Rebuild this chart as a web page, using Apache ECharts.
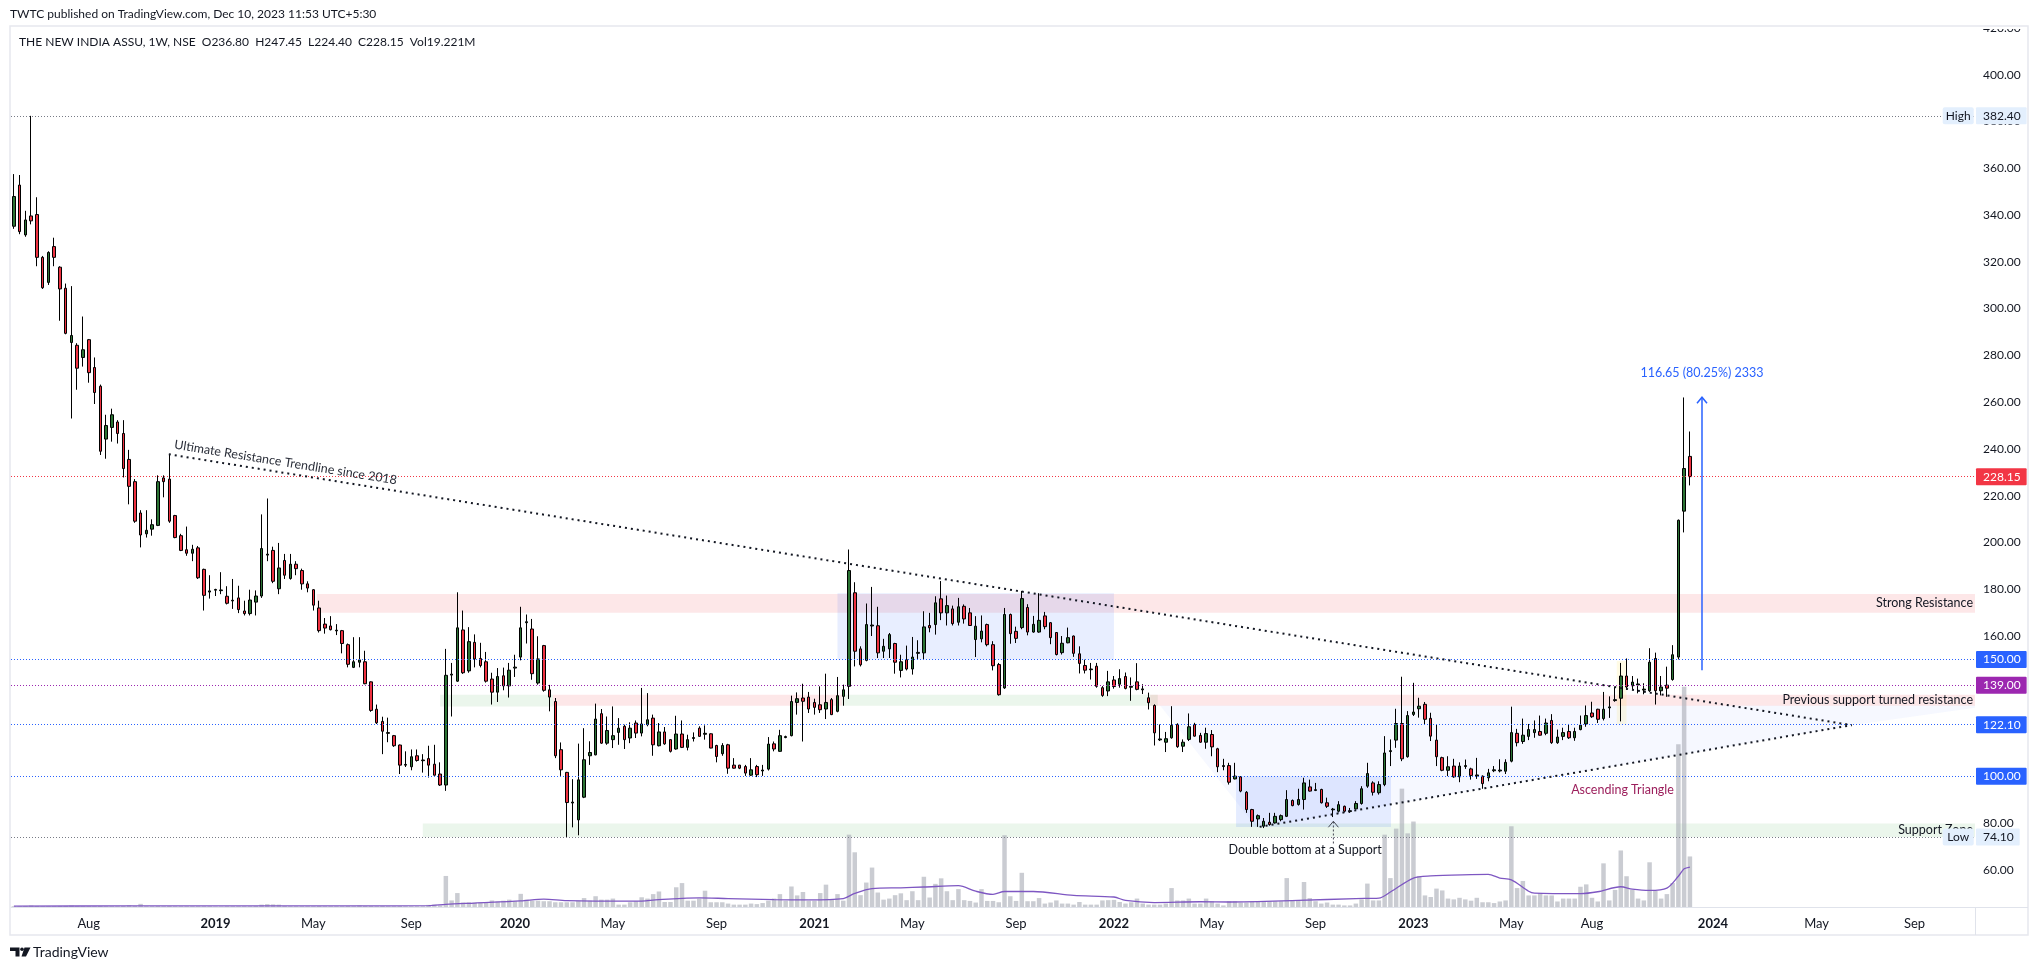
<!DOCTYPE html>
<html>
<head>
<meta charset="utf-8">
<title>THE NEW INDIA ASSU, 1W, NSE</title>
<script src="https://cdn.jsdelivr.net/npm/echarts@6/dist/echarts.min.js"></script>
<style>
    html, body { margin: 0; padding: 0; background: #ffffff; }
    #chart { width: 2039px; height: 972px; }
</style>
</head>
<body>
<div id="chart"></div>
<script>
    const FONT = 'Lato, "Open Sans", Roboto, sans-serif';

    // weekly bars: first one is the week of 7 May 2018, the last real one the week of 4 Dec 2023,
    // the rest are empty weeks up to the right edge of the chart
    const firstWeek = Date.UTC(2018, 4, 7);
    const totalWeeks = 341;
    const weeks = [];
    for (let i = 0; i < totalWeeks; i++) {
        weeks.push(new Date(firstWeek + i * 7 * 86400000).toISOString().slice(0, 10));
    }

    const tickLabels = [
        ['2018-08-06', 'Aug'], ['2019-01-07', '2019'], ['2019-05-06', 'May'], ['2019-09-02', 'Sep'],
        ['2020-01-06', '2020'], ['2020-05-04', 'May'], ['2020-09-07', 'Sep'],
        ['2021-01-04', '2021'], ['2021-05-03', 'May'], ['2021-09-06', 'Sep'],
        ['2022-01-03', '2022'], ['2022-05-02', 'May'], ['2022-09-05', 'Sep'],
        ['2023-01-02', '2023'], ['2023-05-01', 'May'], ['2023-08-07', 'Aug'],
        ['2024-01-01', '2024'], ['2024-05-06', 'May'], ['2024-09-02', 'Sep']
    ];

    // [open, close, low, high]
    const candles = [
        [335.2, 347.9, 334.1, 357.5], [352.8, 332.9, 331.8, 357.1], [331.5, 337.9, 330.7, 341.8], [339.6, 337.5, 336.0, 382.4],
        [340.2, 321.9, 318.1, 347.6], [321.9, 308.9, 308.4, 322.5], [311.2, 324.0, 310.1, 324.5], [326.5, 321.9, 318.1, 330.3],
        [317.7, 308.4, 294.8, 318.1], [308.7, 289.4, 289.0, 310.7], [285.5, 288.5, 253.0, 309.6], [284.3, 274.5, 265.3, 285.2],
        [279.1, 282.4, 275.2, 296.6], [286.7, 272.6, 268.3, 287.0], [274.8, 264.1, 259.2, 279.1], [266.8, 239.0, 237.4, 267.5],
        [244.2, 250.0, 235.8, 254.6], [249.2, 254.6, 243.1, 257.2], [251.5, 246.6, 242.3, 252.3], [246.6, 231.6, 227.8, 252.3],
        [235.5, 224.0, 216.3, 239.6], [226.0, 209.1, 208.4, 227.1], [212.6, 203.2, 197.9, 213.8], [203.7, 205.2, 202.1, 213.8],
        [205.7, 207.6, 202.9, 209.9], [207.3, 226.0, 207.0, 228.7], [227.6, 226.0, 219.3, 228.7], [227.1, 209.1, 208.4, 237.6],
        [211.5, 202.1, 201.8, 211.8], [202.9, 196.6, 196.3, 203.7], [196.9, 195.4, 194.3, 206.8], [195.4, 197.1, 192.0, 199.0],
        [197.7, 184.9, 184.4, 198.5], [188.5, 177.4, 170.9, 188.8], [178.8, 179.3, 176.0, 186.0], [179.6, 179.9, 177.1, 180.2],
        [179.4, 179.7, 177.9, 187.3], [177.0, 174.0, 173.5, 181.3], [175.0, 175.3, 171.6, 184.4], [176.3, 171.3, 169.8, 181.5],
        [170.7, 169.6, 168.8, 175.1], [169.6, 175.4, 168.8, 179.8], [174.5, 177.1, 168.8, 179.5], [177.1, 197.4, 176.3, 212.0],
        [194.6, 195.0, 192.0, 218.8], [196.6, 183.4, 182.6, 198.2], [180.2, 189.1, 177.9, 199.8], [192.3, 186.0, 184.4, 195.1],
        [184.6, 190.7, 184.1, 195.1], [190.7, 188.8, 186.0, 192.0], [188.0, 182.3, 179.8, 188.8], [182.3, 180.5, 178.7, 183.4],
        [179.8, 173.2, 170.9, 180.1], [172.0, 162.3, 161.5, 175.1], [165.1, 163.4, 161.0, 167.7], [164.3, 162.7, 162.4, 168.5],
        [162.2, 162.5, 160.4, 165.1], [162.3, 156.8, 152.6, 162.6], [156.3, 147.9, 146.6, 156.8], [146.6, 149.0, 146.3, 159.5],
        [148.8, 149.8, 146.6, 159.5], [149.0, 139.6, 139.4, 153.7], [140.4, 128.2, 127.6, 140.6], [128.7, 122.9, 122.4, 130.7],
        [123.5, 119.3, 109.5, 125.5], [118.4, 118.7, 114.6, 125.1], [117.4, 113.1, 112.6, 117.7], [113.4, 104.8, 101.0, 113.6],
        [104.8, 105.1, 104.0, 110.7], [104.1, 108.4, 102.6, 111.5], [108.8, 106.8, 106.3, 111.5], [106.7, 107.0, 101.6, 109.5],
        [107.6, 104.8, 99.5, 113.1], [105.2, 100.5, 100.3, 113.5], [101.0, 96.3, 95.9, 106.0], [96.3, 143.2, 93.8, 154.5],
        [143.3, 143.7, 125.6, 148.5], [140.7, 163.5, 140.4, 178.7], [162.6, 144.3, 143.8, 170.9], [145.1, 157.6, 144.3, 163.8],
        [157.3, 150.2, 146.6, 160.7], [150.4, 147.4, 146.6, 157.1], [149.0, 140.7, 140.1, 153.2], [141.6, 136.0, 130.7, 144.3],
        [136.0, 142.7, 131.8, 146.3], [143.0, 138.7, 136.8, 146.5], [138.7, 145.4, 133.7, 148.5], [146.3, 146.7, 142.5, 152.0],
        [151.0, 163.5, 149.6, 172.5], [165.7, 166.1, 156.8, 169.2], [163.0, 143.9, 141.3, 167.3], [139.9, 150.2, 139.2, 159.9],
        [155.9, 136.8, 136.2, 156.2], [137.0, 133.9, 127.8, 139.1], [132.0, 108.8, 107.8, 133.5], [111.4, 102.8, 100.2, 114.5],
        [101.7, 88.8, 74.1, 101.9], [88.6, 89.0, 78.2, 98.8], [81.4, 98.5, 74.8, 114.0], [91.1, 107.1, 90.7, 120.6],
        [108.8, 110.2, 104.9, 115.0], [109.2, 124.5, 109.0, 131.1], [126.8, 114.2, 113.9, 128.8], [114.2, 119.6, 113.5, 125.6],
        [115.7, 117.4, 112.1, 129.9], [118.8, 120.6, 113.5, 124.9], [121.4, 115.7, 111.7, 122.1], [116.4, 120.6, 114.2, 123.1],
        [122.8, 118.5, 116.4, 123.9], [118.5, 122.4, 117.1, 137.8], [122.1, 124.2, 121.4, 135.6], [124.9, 113.5, 108.8, 126.4],
        [113.1, 119.0, 112.8, 122.8], [119.0, 113.9, 113.5, 121.1], [115.7, 110.7, 110.2, 115.9], [111.7, 118.1, 111.4, 125.9],
        [118.1, 112.4, 112.1, 123.9], [112.4, 115.7, 111.1, 117.8], [116.2, 116.6, 114.9, 118.8], [120.6, 117.1, 117.0, 121.4],
        [118.0, 118.4, 115.7, 121.8], [118.2, 112.1, 112.0, 118.4], [113.2, 108.5, 106.0, 113.5], [109.7, 113.2, 108.8, 114.2],
        [113.5, 103.5, 101.1, 113.9], [104.8, 103.5, 103.3, 107.8], [104.8, 103.5, 103.1, 104.9], [104.2, 101.4, 100.2, 104.9],
        [100.5, 102.8, 100.2, 107.8], [104.2, 100.7, 99.7, 104.9], [102.3, 102.7, 100.2, 104.9], [103.1, 113.8, 102.5, 116.8],
        [113.9, 111.7, 110.7, 114.9], [110.7, 117.4, 110.5, 119.9], [116.6, 117.0, 116.3, 117.4], [117.4, 132.0, 117.1, 134.5],
        [131.6, 133.2, 126.4, 135.9], [133.5, 132.1, 114.9, 139.6], [133.9, 128.8, 127.1, 136.1], [131.6, 129.5, 126.4, 133.2],
        [130.6, 128.5, 127.1, 138.5], [128.8, 131.6, 124.5, 143.9], [132.8, 126.4, 126.2, 133.5], [127.8, 134.5, 127.4, 142.5],
        [134.2, 137.0, 130.2, 139.2], [138.5, 188.0, 133.1, 197.0], [178.5, 153.5, 147.0, 183.0], [154.5, 147.7, 147.0, 155.6],
        [149.6, 164.9, 149.2, 173.9], [164.3, 164.7, 160.0, 181.0], [164.4, 152.8, 150.6, 172.5], [153.5, 155.6, 150.6, 158.8],
        [154.5, 160.6, 150.6, 161.3], [156.8, 148.8, 143.9, 157.1], [145.3, 149.0, 142.3, 152.0], [149.9, 145.9, 145.3, 155.9],
        [145.9, 151.0, 143.5, 159.6], [152.6, 153.0, 150.2, 158.2], [152.8, 163.9, 149.9, 170.6], [164.5, 163.5, 161.6, 169.9],
        [164.9, 174.2, 160.6, 177.0], [175.9, 169.9, 166.8, 183.5], [169.9, 173.0, 164.5, 177.3], [171.6, 165.3, 164.5, 173.0],
        [165.9, 172.5, 164.5, 176.3], [172.7, 167.3, 165.3, 173.5], [169.9, 164.5, 164.3, 172.0], [158.5, 164.2, 151.0, 168.5],
        [158.8, 162.1, 157.3, 168.8], [164.9, 156.3, 155.6, 165.3], [156.3, 147.3, 145.3, 157.8], [147.8, 134.9, 134.5, 148.5],
        [137.8, 169.2, 137.4, 172.0], [169.2, 161.0, 156.7, 169.6], [162.0, 159.0, 157.0, 164.0], [163.6, 176.0, 162.9, 179.3],
        [172.2, 161.7, 160.3, 173.6], [161.7, 165.0, 161.4, 168.6], [161.7, 166.7, 161.4, 178.3], [168.6, 164.0, 162.9, 170.3],
        [165.7, 159.3, 156.5, 166.0], [161.5, 152.1, 151.7, 161.7], [152.9, 156.9, 152.1, 160.0], [157.1, 159.3, 156.9, 163.6],
        [160.0, 152.6, 151.1, 160.2], [152.4, 148.3, 144.0, 155.6], [147.4, 145.4, 144.0, 149.9], [145.6, 145.9, 141.4, 148.5],
        [147.1, 138.5, 137.9, 148.5], [137.9, 134.6, 134.0, 138.6], [136.5, 140.4, 134.3, 145.1], [141.2, 138.4, 137.5, 142.9],
        [139.4, 141.8, 137.9, 145.8], [142.7, 137.6, 137.2, 144.4], [138.1, 138.5, 132.3, 142.3], [140.4, 137.2, 136.8, 148.4],
        [137.0, 137.4, 135.2, 139.4], [133.6, 131.5, 128.6, 135.8], [130.3, 118.6, 113.2, 130.8], [115.6, 116.0, 115.1, 122.2],
        [114.6, 116.1, 110.4, 119.0], [116.5, 121.8, 116.1, 130.0], [122.2, 112.7, 112.2, 122.7], [112.9, 114.6, 110.4, 115.8],
        [115.8, 121.2, 115.1, 126.9], [122.2, 117.2, 117.0, 122.9], [117.5, 114.6, 114.4, 118.6], [114.6, 118.3, 111.8, 120.8],
        [117.9, 112.6, 108.6, 119.8], [111.8, 104.1, 101.8, 112.2], [104.2, 104.6, 102.6, 107.5], [104.6, 97.5, 96.5, 105.8],
        [98.9, 100.1, 98.7, 105.8], [99.8, 93.7, 93.2, 100.1], [93.2, 85.8, 84.4, 93.7], [85.8, 80.8, 78.4, 86.1],
        [81.8, 83.2, 78.4, 83.7], [78.7, 80.8, 77.9, 82.2], [80.4, 79.4, 78.9, 84.4], [80.1, 82.9, 79.8, 84.4],
        [81.5, 83.2, 80.8, 83.7], [82.9, 90.1, 82.6, 94.1], [89.7, 87.5, 87.2, 90.1], [88.0, 90.1, 87.5, 94.7],
        [90.1, 97.2, 85.8, 99.4], [95.5, 93.7, 93.5, 98.6], [94.0, 94.3, 93.7, 97.2], [94.4, 88.7, 88.4, 94.7],
        [88.7, 87.2, 86.5, 90.9], [85.7, 86.0, 82.6, 86.5], [85.1, 87.9, 84.6, 89.4], [87.2, 85.1, 84.6, 87.5],
        [85.0, 85.3, 84.4, 86.5], [86.1, 88.4, 85.8, 89.4], [88.4, 94.7, 87.9, 95.8], [95.8, 101.2, 95.1, 105.8],
        [97.2, 93.2, 91.8, 97.9], [93.0, 96.5, 92.2, 97.9], [96.5, 110.0, 95.8, 117.2], [110.6, 111.0, 104.4, 115.8],
        [115.5, 122.6, 112.2, 128.9], [122.6, 107.5, 106.5, 142.6], [108.4, 126.0, 108.0, 127.9], [126.5, 127.5, 125.8, 140.0],
        [128.9, 130.0, 125.1, 133.6], [130.8, 124.4, 122.2, 131.8], [124.8, 117.2, 115.1, 127.2], [115.5, 108.4, 104.4, 122.2],
        [108.0, 102.6, 102.2, 108.4], [102.6, 104.1, 100.1, 108.6], [104.4, 99.8, 99.4, 107.5], [99.8, 104.4, 97.5, 106.0],
        [104.2, 104.6, 103.2, 107.2], [103.2, 100.4, 98.6, 103.7], [100.2, 100.6, 98.9, 107.9], [100.1, 96.9, 94.7, 100.4],
        [99.4, 101.5, 97.9, 103.2], [102.4, 102.8, 101.8, 104.4], [102.3, 102.7, 101.7, 107.3], [102.2, 106.0, 101.0, 107.3],
        [106.5, 118.7, 106.0, 129.8], [118.4, 114.4, 112.8, 120.3], [114.9, 117.6, 113.9, 124.7], [117.1, 120.0, 115.5, 122.4],
        [118.7, 120.0, 116.5, 123.9], [119.2, 117.6, 117.4, 126.0], [118.4, 122.8, 117.6, 124.7], [123.9, 114.4, 113.9, 126.6],
        [114.4, 116.8, 113.9, 120.0], [117.1, 118.7, 115.5, 120.8], [119.2, 116.5, 116.0, 122.4], [116.5, 119.2, 115.2, 120.8],
        [120.0, 121.9, 119.7, 126.0], [122.4, 126.0, 121.2, 130.3], [127.1, 125.5, 125.0, 131.9], [128.7, 124.4, 122.8, 128.9],
        [124.7, 128.7, 123.9, 136.1], [129.3, 129.7, 125.0, 134.2], [132.4, 132.8, 131.9, 138.2], [133.4, 142.9, 123.5, 148.5],
        [142.9, 138.2, 137.0, 150.4], [138.7, 140.3, 137.0, 142.9], [139.1, 139.5, 135.5, 141.8], [136.9, 137.3, 135.1, 139.8],
        [136.6, 148.8, 136.1, 154.8], [150.4, 136.6, 130.7, 152.9], [136.6, 138.2, 134.6, 142.9], [139.0, 137.7, 134.0, 146.9],
        [141.4, 152.0, 140.9, 156.1], [151.0, 209.5, 150.0, 209.8], [213.4, 231.6, 204.3, 262.0], [236.8, 228.15, 224.4, 247.45]
    ];

    // weekly volume, millions of shares
    const volumes = [
        0.3, 0.3, 0.4, 0.6, 0.4, 0.3, 0.3, 0.3, 0.4, 0.4, 0.6, 0.3, 0.3, 0.3, 0.3, 0.4, 0.3, 0.3, 0.3, 0.4,
        0.7, 0.4, 1.2, 0.3, 0.3, 0.4, 0.3, 0.4, 0.3, 0.3, 0.3, 0.3, 0.3, 0.3, 0.3, 0.2, 0.2, 0.3, 0.3, 0.3,
        0.3, 0.3, 0.4, 0.9, 1.1, 1.0, 0.9, 0.4, 0.3, 0.3, 0.3, 0.3, 0.3, 0.4, 0.3, 0.3, 0.3, 0.3, 0.4, 0.3,
        0.6, 0.4, 0.4, 0.3, 0.4, 0.3, 0.3, 0.4, 0.3, 0.3, 0.3, 0.3, 0.8, 0.9, 0.6, 11.8, 2.5, 5.3, 1.7, 1.8,
        1.7, 1.7, 1.7, 2.5, 2.1, 2.4, 2.8, 2.2, 5.0, 2.8, 2.4, 2.4, 2.2, 2.2, 1.8, 1.8, 1.8, 1.8, 2.4, 3.4,
        2.4, 4.1, 2.8, 2.8, 3.2, 0.9, 0.9, 1.8, 2.2, 3.7, 3.2, 4.9, 5.9, 1.9, 1.9, 7.5, 9.1, 2.4, 2.4, 3.2,
        6.2, 1.8, 1.8, 1.8, 1.3, 0.9, 0.9, 0.9, 1.3, 1.1, 1.5, 2.4, 3.2, 4.9, 2.4, 7.8, 4.4, 5.7, 2.4, 2.4,
        5.3, 8.5, 2.8, 4.9, 2.4, 27.5, 20.8, 4.5, 9.3, 15.0, 5.5, 2.8, 3.2, 4.5, 5.2, 2.6, 6.0, 2.6, 11.5, 3.6,
        8.8, 10.9, 6.0, 2.6, 6.8, 2.6, 2.3, 1.7, 6.8, 2.3, 2.3, 1.8, 27.3, 4.1, 2.3, 13.0, 2.2, 2.2, 3.4, 1.3,
        1.7, 2.5, 1.3, 1.3, 0.9, 1.9, 0.9, 0.9, 0.9, 2.5, 2.6, 2.7, 1.9, 1.3, 1.8, 3.2, 1.3, 0.9, 0.9, 0.9,
        1.3, 7.2, 2.5, 2.5, 3.2, 1.3, 1.3, 3.2, 2.2, 1.3, 0.6, 2.2, 2.2, 1.7, 1.7, 2.2, 2.2, 2.2, 2.2, 2.2,
        2.2, 11.0, 2.5, 2.5, 9.5, 3.4, 2.2, 1.3, 1.7, 0.9, 0.9, 0.6, 0.6, 1.3, 2.9, 8.9, 2.5, 2.5, 27.5, 11.0,
        29.8, 45.0, 28.0, 32.5, 11.8, 4.4, 3.8, 7.0, 6.3, 3.2, 2.9, 3.5, 2.9, 2.4, 3.5, 1.8, 1.8, 1.5, 2.1, 2.5,
        30.7, 7.2, 9.9, 4.4, 4.4, 5.3, 4.4, 4.4, 2.1, 3.2, 3.2, 3.2, 7.7, 8.6, 3.5, 2.1, 16.6, 2.5, 6.5, 21.5,
        11.7, 6.5, 3.2, 2.5, 17.0, 6.1, 3.2, 4.9, 9.1, 61.9, 83.7, 19.22
    ];

    // volume moving average as drawn: [week, millions]
    const volumeAvg = [
        [0, 0.35], [20, 0.4], [40, 0.45], [60, 0.45], [72, 0.5], [75, 1.0], [80, 1.5], [88, 2.3], [92, 3.0],
        [96, 2.4], [108, 2.2], [112, 2.8], [119, 3.5], [124, 3.2], [132, 2.8], [138, 2.7], [144, 3.2], [146, 5.2],
        [149, 7.0], [154, 7.3], [158, 7.6], [164, 8.1], [167, 6.0], [170, 4.8], [172, 5.9], [177, 5.9], [184, 4.4],
        [191, 3.8], [193, 2.5], [198, 1.7], [206, 2.0], [211, 1.9], [223, 2.5], [233, 3.2], [237, 3.4], [239, 5.7],
        [243, 11.0], [246, 11.8], [253, 12.3], [256, 12.4], [258, 11.0], [260, 10.3], [263, 6.0], [264, 5.3],
        [272, 5.1], [275, 5.8], [279, 7.7], [281, 6.8], [284, 6.3], [287, 7.2], [289, 11.7], [290, 14.5], [291, 15.2]
    ];

    // horizontal price levels
    const levels = [382.40, 228.15, 150.00, 139.00, 122.10, 100.00, 74.10];
    const levelColors = ['#787b86', '#f23645', '#2962ff', '#9c27b0', '#2962ff', '#2962ff', '#787b86'];
    const levelBoxes = ['#e3effd', '#f23645', '#2962ff', '#9c27b0', '#2962ff', '#2962ff', '#e3effd'];
    const levelText = ['#131722', '#fff', '#fff', '#fff', '#fff', '#fff', '#131722'];

    // drawings, in [week, price]
    const lastWeek = totalWeeks - 0.5;
    const zones = [
        { name: 'Strong Resistance', from: [52.6, 170.0], to: [lastWeek, 178.0], color: 'rgba(242,54,69,0.12)', label: true },
        { name: '', from: [74.0, 129.9], to: [93.6, 134.9], color: 'rgba(76,175,80,0.11)' },
        { name: '', from: [93.6, 130.2], to: [143.8, 134.9], color: 'rgba(242,54,69,0.12)' },
        { name: '', from: [143.8, 130.2], to: [198.6, 134.9], color: 'rgba(76,175,80,0.11)' },
        { name: 'Previous support turned resistance', from: [197.3, 130.2], to: [lastWeek, 134.9], color: 'rgba(242,54,69,0.12)', label: true },
        { name: 'Support Zone', from: [71.0, 74.1], to: [lastWeek, 79.9], color: 'rgba(76,175,80,0.11)', label: true },
        { name: '', from: [143.0, 150.0], to: [191.0, 178.3], color: 'rgba(41,98,255,0.11)' },
        { name: '', from: [212.2, 78.4], to: [239.1, 100.0], color: 'rgba(41,98,255,0.12)' },
        { name: '', from: [278.3, 122.3], to: [280.0, 149.3], color: 'rgba(255,214,0,0.1)' }
    ];
    const triangleShade = [[199.0, 130.3], [215.8, 78.0], [319.1, 121.9], [lastWeek, 129.3], [lastWeek, 130.3]];
    const resistanceLine = [[26.9, 237.7], [319.1, 121.9]];
    const supportLine = [[216.3, 78.4], [319.1, 121.9]];
    const arrows = [
        { x: 293.1, from: 145.4, to: 262.1, color: '#2962ff', width: 1.5, dash: null },
        { x: 229.1, from: 71.3, to: 80.8, color: '#434651', width: 1, dash: [2, 2] }
    ];
    const notes = [
        { at: [293.1, 272.6], text: '116.65 (80.25%) 2333', color: '#2962ff' },
        { at: [279.3, 94.3], text: 'Ascending Triangle', color: '#9c1f5c' },
        { at: [224.2, 68.7], text: 'Double bottom at a Support', color: '#131722' }
    ];
    const tags = [
        { at: [337.5, 382.40], text: 'High' },
        { at: [337.5, 74.10], text: 'Low' }
    ];

    const tickMap = {};
    tickLabels.forEach(t => { tickMap[t[0]] = t[1]; });

    let chart = echarts.init(document.getElementById('chart'));

    let option = {
        backgroundColor: '#ffffff',
        animation: false,
        textStyle: { fontFamily: FONT },
        grid: [
            { left: 11, right: 64, top: 27.9, bottom: 55.3 },
            { left: 11, right: 64, bottom: 65, height: 263 }
        ],
        xAxis: [
            { type: 'category', gridIndex: 0, data: weeks, boundaryGap: true, show: false },
            { type: 'value', gridIndex: 0, min: -0.5, max: lastWeek, show: false },
            {
                type: 'category', gridIndex: 1, data: weeks, boundaryGap: true,
                axisLine: { lineStyle: { color: '#e0e3eb', width: 1 } },
                axisTick: { show: false },
                splitLine: { show: false },
                axisLabel: {
                    margin: 10,
                    color: '#131722',
                    fontSize: 13,
                    interval: (idx, val) => tickMap[val] !== undefined,
                    formatter: (val) => {
                        const t = tickMap[val] || '';
                        return /^\d{4}$/.test(t) ? '{y|' + t + '}' : t;
                    },
                    rich: { y: { fontWeight: 'bold', fontSize: 13, color: '#131722', fontFamily: FONT } }
                }
            },
            { type: 'value', gridIndex: 1, min: -0.5, max: lastWeek, show: false }
        ],
        yAxis: [
            {
                type: 'value', gridIndex: 0, position: 'right', min: 40, max: 420, interval: 20,
                axisLine: { show: false },
                axisTick: { show: false },
                splitLine: { show: false },
                axisLabel: {
                    color: '#131722', fontSize: 12, margin: 8, showMinLabel: false,
                    formatter: v => v.toFixed(2)
                }
            },
            { type: 'value', gridIndex: 1, min: 0, max: 100, show: false }
        ],
        series: [
            {
                type: 'line', name: 'zones', xAxisIndex: 1, yAxisIndex: 0, data: [], z: 1, silent: true,
                markArea: {
                    silent: true,
                    data: zones.map(zn => [
                        {
                            name: zn.name, coord: zn.from, itemStyle: { color: zn.color },
                            label: {
                                show: !!zn.label, position: 'insideRight', distance: 2,
                                color: '#131722', fontSize: 12.5, fontFamily: FONT
                            }
                        },
                        { coord: zn.to }
                    ])
                }
            },
            {
                type: 'custom', name: 'triangle', xAxisIndex: 1, yAxisIndex: 0, z: 1, silent: true,
                data: [triangleShade[0]],
                renderItem: (params, api) => ({
                    type: 'polygon',
                    shape: { points: triangleShade.map(p => api.coord(p)) },
                    style: { fill: 'rgba(41,98,255,0.045)' }
                })
            },
            {
                type: 'bar', name: 'Volume', xAxisIndex: 2, yAxisIndex: 1, data: volumes, z: 2,
                barWidth: '78%', itemStyle: { color: 'rgba(170,173,182,0.62)' }
            },
            {
                type: 'line', name: 'Volume MA', xAxisIndex: 3, yAxisIndex: 1, data: volumeAvg, z: 3,
                showSymbol: false, smooth: 0.3, lineStyle: { color: '#7e57c2', width: 1.3 }
            },
            {
                type: 'candlestick', name: 'NIACL', xAxisIndex: 0, yAxisIndex: 0, data: candles, z: 4,
                barWidth: 3,
                itemStyle: {
                    color: '#2b7334', color0: '#ee3140',
                    borderColor: '#000000', borderColor0: '#000000', borderWidth: 1
                },
                markLine: {
                    silent: true,
                    symbol: ['none', 'none'],
                    data: levels.map((v, k) => ({
                        yAxis: v,
                        lineStyle: { color: levelColors[k], type: [1, 2], width: 1 },
                        label: {
                            show: true, position: 'end', distance: 1,
                            formatter: p => Number(p.value).toFixed(2),
                            backgroundColor: levelBoxes[k], color: levelText[k],
                            padding: [3, 6, 2, 7], fontSize: 12, fontFamily: FONT, borderRadius: 1
                        }
                    }))
                }
            },
            {
                type: 'line', name: 'trendlines', xAxisIndex: 1, yAxisIndex: 0, data: [], z: 5, silent: true,
                markLine: {
                    silent: true,
                    symbol: ['none', 'none'],
                    lineStyle: { color: '#131722', type: [2, 4], width: 2 },
                    data: [
                        [
                            {
                                coord: resistanceLine[0],
                                label: {
                                    show: true, position: 'insideStartTop', distance: 4,
                                    formatter: 'Ultimate Resistance Trendline since 2018',
                                    color: '#2a2e39', fontSize: 12.5, fontFamily: FONT
                                }
                            },
                            { coord: resistanceLine[1] }
                        ],
                        [
                            { coord: supportLine[0], label: { show: false } },
                            { coord: supportLine[1] }
                        ]
                    ]
                }
            },
            {
                type: 'custom', name: 'arrows', xAxisIndex: 1, yAxisIndex: 0, z: 6, silent: true,
                data: arrows.map(a => [a.x, a.to]),
                renderItem: (params, api) => {
                    const a = arrows[params.dataIndex];
                    const base = api.coord([a.x, a.from]);
                    const tip = api.coord([a.x, a.to]);
                    return {
                        type: 'group',
                        children: [
                            {
                                type: 'line',
                                shape: { x1: base[0], y1: base[1], x2: tip[0], y2: tip[1] },
                                style: { stroke: a.color, lineWidth: a.width, lineDash: a.dash }
                            },
                            {
                                type: 'polyline',
                                shape: { points: [[tip[0] - 5, tip[1] + 6], [tip[0], tip[1]], [tip[0] + 5, tip[1] + 6]] },
                                style: { stroke: a.color, lineWidth: a.width, fill: null }
                            }
                        ]
                    };
                }
            },
            {
                type: 'custom', name: 'notes', xAxisIndex: 1, yAxisIndex: 0, z: 6, silent: true,
                data: notes.map(n => n.at),
                renderItem: (params, api) => {
                    const n = notes[params.dataIndex];
                    const p = api.coord(n.at);
                    return {
                        type: 'text', x: p[0], y: p[1],
                        style: {
                            text: n.text, fill: n.color, font: '12.5px ' + FONT,
                            align: 'center', verticalAlign: 'middle'
                        }
                    };
                }
            },
            {
                type: 'custom', name: 'tags', xAxisIndex: 1, yAxisIndex: 0, z: 7, silent: true, clip: false,
                data: tags.map(t => t.at),
                renderItem: (params, api) => {
                    const t = tags[params.dataIndex];
                    const p = api.coord(t.at);
                    return {
                        type: 'group',
                        children: [
                            {
                                type: 'rect',
                                shape: { x: p[0] - 15, y: p[1] - 8.5, width: 31, height: 17, r: 2 },
                                style: { fill: '#e3effd' }
                            },
                            {
                                type: 'text', x: p[0] + 0.5, y: p[1],
                                style: {
                                    text: t.text, fill: '#131722', font: '12px ' + FONT,
                                    align: 'center', verticalAlign: 'middle'
                                }
                            }
                        ]
                    };
                }
            }
        ],
        graphic: [
            { type: 'rect', z: 50, shape: { x: 1976, y: 0, width: 60, height: 29 }, style: { fill: '#ffffff' } },
            {
                type: 'rect', z: 60, shape: { x: 10, y: 26, width: 2018, height: 909 },
                style: { fill: 'none', stroke: '#e6e8ee', lineWidth: 1.5 }
            },
            { type: 'line', z: 60, shape: { x1: 1975, y1: 907.5, x2: 2028, y2: 907.5 }, style: { stroke: '#e0e3eb', lineWidth: 1 } },
            { type: 'line', z: 60, shape: { x1: 1975.5, y1: 907, x2: 1975.5, y2: 935 }, style: { stroke: '#e0e3eb', lineWidth: 1 } },
            {
                type: 'text', z: 60, x: 10, y: 14,
                style: {
                    text: 'TWTC published on TradingView.com, Dec 10, 2023 11:53 UTC+5:30',
                    fill: '#131722', font: '12px ' + FONT, verticalAlign: 'middle'
                }
            },
            {
                type: 'text', z: 60, x: 19, y: 42,
                style: {
                    text: 'THE NEW INDIA ASSU, 1W, NSE  O236.80  H247.45  L224.40  C228.15  Vol19.221M',
                    fill: '#131722', font: '12px ' + FONT, verticalAlign: 'middle'
                }
            },
            {
                type: 'polygon', z: 60,
                shape: { points: [[10, 947.5], [19.5, 947.5], [19.5, 956.5], [15.5, 956.5], [15.5, 951], [10, 951]] },
                style: { fill: '#131722' }
            },
            { type: 'circle', z: 60, shape: { cx: 22, cy: 949.3, r: 1.8 }, style: { fill: '#131722' } },
            {
                type: 'polygon', z: 60,
                shape: { points: [[24.5, 947.5], [30.5, 947.5], [26, 956.5], [21.5, 956.5]] },
                style: { fill: '#131722' }
            },
            {
                type: 'text', z: 60, x: 33, y: 952,
                style: { text: 'TradingView', fill: '#131722', font: '14px ' + FONT, verticalAlign: 'middle' }
            }
        ]
    };

    chart.setOption(option);
</script>
</body>
</html>
